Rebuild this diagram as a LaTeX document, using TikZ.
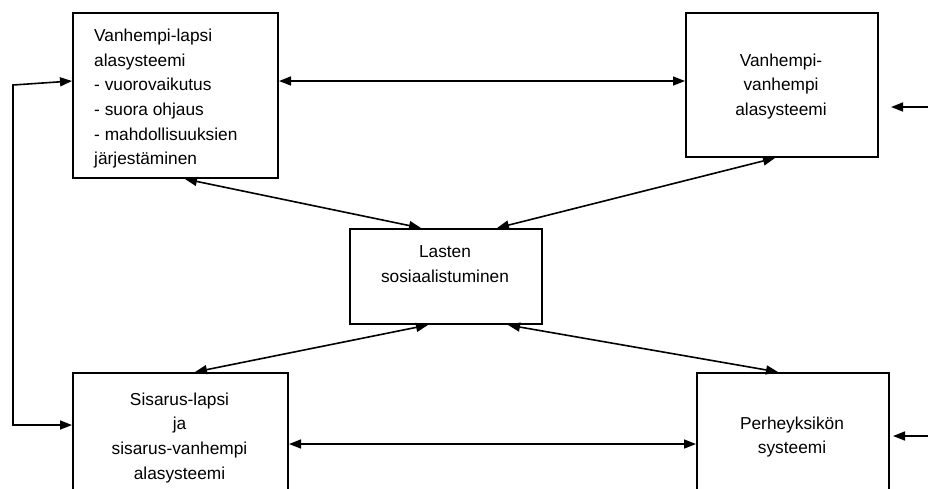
\documentclass[tikz,border=0pt]{standalone}
\usepackage{fontspec}
\setmainfont{Liberation Sans}
\usetikzlibrary{arrows.meta,calc}
\begin{document}
\begin{tikzpicture}[x=1pt,y=-1pt,
  box/.style={draw, line width=2pt, inner sep=0pt, anchor=north west},
  lbl/.style={inner sep=0pt, font=\fontsize{17.3}{24.6}\selectfont},
  link/.style={line width=1.6pt, -{Triangle[length=12pt,width=9pt]}},
  both/.style={line width=1.6pt, {Triangle[length=12pt,width=9pt]}-{Triangle[length=12pt,width=9pt]}}]
\clip (0,0) rectangle (928,488);

% subsystem boxes
\node[box, minimum width=205pt, minimum height=165pt] (A) at (72,12) {};
\node[box, minimum width=192pt, minimum height=144pt] (B) at (685,12) {};
\node[box, minimum width=192pt, minimum height=95pt]  (C) at (349,228) {};
\node[box, minimum width=215pt, minimum height=130pt] (D) at (72,372) {};
\node[box, minimum width=192pt, minimum height=130pt] (E) at (696,372) {};

% box texts
\node[lbl, anchor=north west, align=left] (tA) at (94,29)
  {Vanhempi-lapsi\\alasysteemi\\- vuorovaikutus\\- suora ohjaus\\- mahdollisuuksien\\järjestäminen};
\node[lbl, anchor=north, align=center] (tB) at (781,53.5)
  {Vanhempi-\\vanhempi\\alasysteemi};
\node[lbl, anchor=north, align=center] (tC) at (445,245.5)
  {Lasten\\sosiaalistuminen};
\node[lbl, anchor=north, align=center] (tD) at (179.5,392.5)
  {Sisarus-lapsi\\ja\\sisarus-vanhempi\\alasysteemi};
\node[lbl, anchor=north, align=center] (tE) at (792,416.5)
  {Perheyksikön\\systeemi};

% corner and free-end points
\coordinate (L1) at (13,85);
\coordinate (L2) at (13,425);
\coordinate (R1) at (928,107);
\coordinate (R2) at (928,436);

% connectors
\draw[both] ([yshift=-69pt]A.north east) -- ([yshift=-69pt]B.north west);
\draw[both] ([xshift=113pt]A.south west) -- ([xshift=72pt]C.north west);
\draw[both] ([xshift=90pt]B.south west) -- ([xshift=148pt]C.north west);
\draw[both] ([xshift=79pt]C.south west) -- ([xshift=123pt]D.north west);
\draw[both] ([xshift=159pt]C.south west) -- ([xshift=82pt]E.north west);
\draw[both] ([yshift=-72pt]D.north east) -- ([yshift=-72pt]E.north west);
\draw[both] ([yshift=-69pt]A.north west) -- (L1) -- (L2) -- ([yshift=-53pt]D.north west);
\draw[link] (R1) -- ([xshift=12pt,yshift=-95pt]B.north east);
\draw[link] (R2) -- ([xshift=3pt,yshift=-64pt]E.north east);
\end{tikzpicture}
\end{document}
